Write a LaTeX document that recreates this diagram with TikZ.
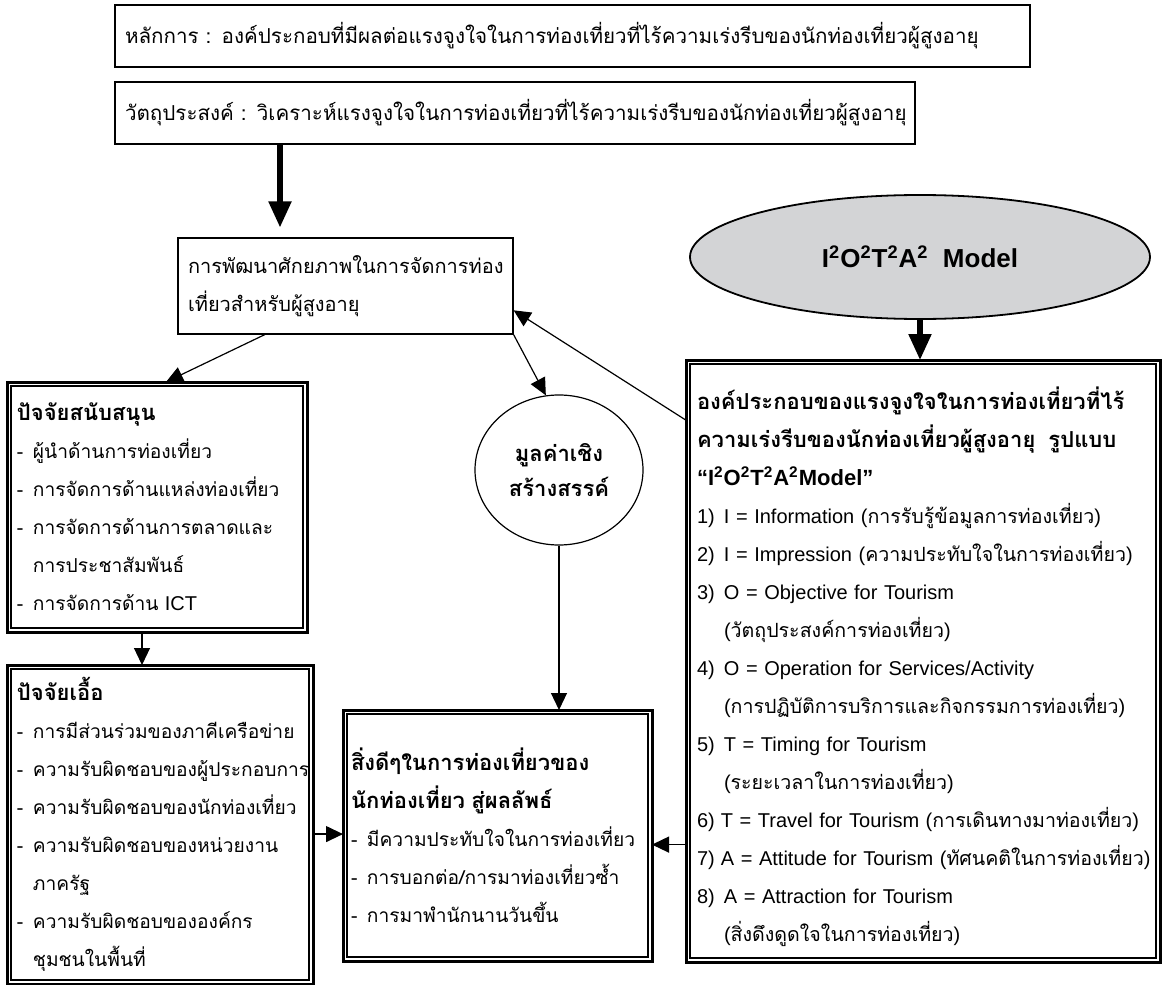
\documentclass[tikz,border=0pt]{standalone}
\usepackage{fontspec}
\setmainfont[Script=Thai]{Loma}
\newfontfamily\en{Liberation Sans}
\usetikzlibrary{arrows.meta,shapes.geometric,calc}
\newcommand\lat[1]{{\en\fontsize{10}{19}\selectfont #1}}
\newcommand\hd[1]{{\fontsize{11}{19}\selectfont\bfseries #1}}
\newcommand\dsh{\makebox[8pt][l]{-}}
\newcommand\dind{\hspace*{8pt}}
\newcommand\numi[1]{\makebox[13.5pt][l]{\lat{#1}}}
\newcommand\numj[1]{\makebox[12pt][l]{\lat{#1}}}
\newcommand\nind{\hspace*{13.5pt}}
\newcommand\sq{\textsuperscript{2}}
\begin{document}
\begin{tikzpicture}[x=0.5pt,y=-0.5pt,
  txt/.style={font=\fontsize{9.6}{19}\selectfont},
  box/.style={txt, draw, line width=0.6pt, align=left, inner ysep=0pt},
  topbox/.style={box, font=\fontsize{10.3}{19}\selectfont},
  dbox/.style={box, outer sep=2pt},
  frame/.style={line width=1.5pt},
  arr/.style={line width=0.6pt, -{Triangle[length=8.5pt,width=8pt]}},
  bigarr/.style={line width=2.6pt, -{Triangle[length=13pt,width=11pt]}},
  ell/.style={ellipse, draw, inner sep=0pt}
]
\useasboundingbox (0,0) rectangle (1164,985);

% top boxes
\node[topbox, text width=447.5pt, inner xsep=5pt, minimum height=31pt] (b1) at (572.5,36)
  {หลักการ : องค์ประกอบที่มีผลต่อแรงจูงใจในการท่องเที่ยวที่ไร้ความเร่งรีบของนักท่องเที่ยวผู้สูงอายุ};
\node[topbox, text width=390pt, inner xsep=5pt, minimum height=31pt] (b2) at (515,113)
  {วัตถุประสงค์ : วิเคราะห์แรงจูงใจในการท่องเที่ยวที่ไร้ความเร่งรีบของนักท่องเที่ยวผู้สูงอายุ};
\node[box, font=\fontsize{10}{19}\selectfont, text width=157.5pt, inner xsep=5pt, minimum height=48pt] (b3) at (345.5,286)
  {การพัฒนาศักยภาพในการจัดการท่อง\\เที่ยวสำหรับผู้สูงอายุ};

% ellipse model
\node[ell, line width=0.9pt, fill={rgb,255:red,211;green,212;blue,214}, minimum width=230pt, minimum height=62pt,
  font=\en\bfseries\fontsize{13}{16}\selectfont] (model) at (920,257)
  {I\sq O\sq T\sq A\sq\ \ Model};

% circle
\node[ell, line width=0.6pt, minimum width=84pt, minimum height=75pt, align=center,
  font=\bfseries\fontsize{11}{17.5}\selectfont] (circ) at (559,470)
  {มูลค่าเชิง\\สร้างสรรค์};

% left box 1
\node[dbox, text width=140pt, inner xsep=3pt, minimum height=121pt] (lb1) at (157,507)
  {\hd{ปัจจัยสนับสนุน}\\
   \dsh ผู้นำด้านการท่องเที่ยว\\
   \dsh การจัดการด้านแหล่งท่องเที่ยว\\
   \dsh การจัดการด้านการตลาดและ\\
   \dind การประชาสัมพันธ์\\
   \dsh การจัดการด้าน \lat{ICT}};

% left box 2
\node[dbox, text width=143pt, inner xsep=3pt, minimum height=155.5pt] (lb2) at (160,824.5)
  {\hd{ปัจจัยเอื้อ}\\
   \dsh การมีส่วนร่วมของภาคีเครือข่าย\\
   \dsh ความรับผิดชอบของผู้ประกอบการ\\
   \dsh ความรับผิดชอบของนักท่องเที่ยว\\
   \dsh ความรับผิดชอบของหน่วยงาน\\
   \dind ภาครัฐ\\
   \dsh ความรับผิดชอบขององค์กร\\
   \dind ชุมชนในพื้นที่};

% middle box
\node[dbox, text width=146.5pt, inner xsep=2pt, minimum height=121.5pt] (mb) at (497.5,835.5)
  {\hd{สิ่งดีๆในการท่องเที่ยวของ}\\
   \hd{นักท่องเที่ยว สู่ผลลัพธ์}\\
   \dsh มีความประทับใจในการท่องเที่ยว\\
   \dsh การบอกต่อ/การมาท่องเที่ยวซ้ำ\\
   \dsh การมาพำนักนานวันขึ้น};

% right box
\node[dbox, font=\fontsize{9.8}{19}\selectfont, text width=226pt, inner xsep=3.5pt, minimum height=297pt] (rb) at (923,661)
  {\rule{0pt}{17pt}\hd{องค์ประกอบของแรงจูงใจในการท่องเที่ยวที่ไร้}\\
   \hd{ความเร่งรีบของนักท่องเที่ยวผู้สูงอายุ\ \ รูปแบบ}\\
   {\en\bfseries\fontsize{11}{19}\selectfont “I\sq O\sq T\sq A\sq Model”}\\
   \mbox{\numi{1)}\lat{I = Information (}การรับรู้ข้อมูลการท่องเที่ยว\lat{)}}\\
   \mbox{\numi{2)}\lat{I = Impression (}ความประทับใจในการท่องเที่ยว\lat{)}}\\
   \numi{3)}\lat{O = Objective for Tourism}\\
   \nind\lat{(}วัตถุประสงค์การท่องเที่ยว\lat{)}\\
   \numi{4)}\lat{O = Operation for Services/Activity}\\
   \mbox{\nind\lat{(}การปฏิบัติการบริการและกิจกรรมการท่องเที่ยว\lat{)}}\\
   \numi{5)}\lat{T = Timing for Tourism}\\
   \nind\lat{(}ระยะเวลาในการท่องเที่ยว\lat{)}\\
   \mbox{\numj{6)}\lat{T = Travel for Tourism (}การเดินทางมาท่องเที่ยว\lat{)}}\\
   \mbox{\numj{7)}\lat{A = Attitude for Tourism (}ทัศนคติในการท่องเที่ยว\lat{)}}\\
   \numi{8)}\lat{A = Attraction for Tourism}\\
   \nind\lat{(}สิ่งดึงดูดใจในการท่องเที่ยว\lat{)}};

% outer thick frames of double boxes
\foreach \n in {lb1,lb2,mb,rb}
  \draw[frame] (\n.north west) rectangle (\n.south east);

% connectors
\coordinate (t1) at (280,0);
\draw[bigarr] (b2.south -| t1) -- ($(b3.north -| t1)+(0,-10)$);
\draw[bigarr] (model.south) -- (model.south |- rb.north);
\draw[arr] ($(b3.south west)!0.26!(b3.south east)$) -- ($(lb1.north west)!0.53!(lb1.north east)$);
\draw[arr] (b3.south east) -- (circ.100);
\draw[arr] ($(rb.north west)!0.1!(rb.south west)$) -- ($(b3.north east)!0.75!(b3.south east)$);
\draw[arr] (circ.south) -- (circ.south |- mb.north);
\coordinate (t2) at ($(lb1.south west)!0.45!(lb1.south east)$);
\draw[arr] (t2) -- (t2 |- lb2.north);
\coordinate (t3) at ($(lb2.north east)!0.53!(lb2.south east)$);
\draw[arr] (t3) -- (t3 -| mb.west);
\coordinate (t4) at ($(rb.north west)!0.805!(rb.south west)$);
\draw[arr] (t4) -- (t4 -| mb.east);
\end{tikzpicture}
\end{document}
